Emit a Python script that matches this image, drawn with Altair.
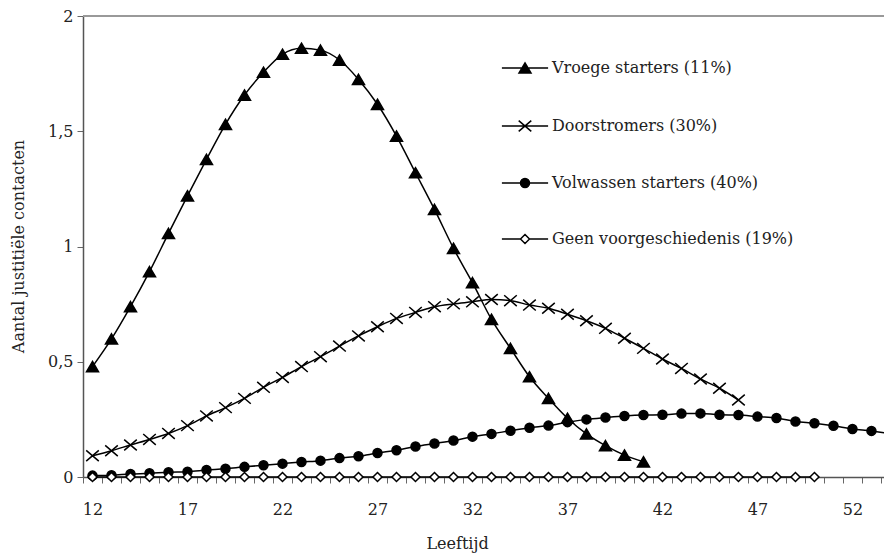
import altair as alt
import pandas as pd

series_names = ["Vroege starters (11%)", "Doorstromers (30%)",
                "Volwassen starters (40%)", "Geen voorgeschiedenis (19%)"]

ages_vroeg = list(range(12, 42))
vals_vroeg = [0.479, 0.599, 0.739, 0.891, 1.057, 1.220, 1.378, 1.530, 1.657, 1.756,
              1.834, 1.860, 1.852, 1.809, 1.725, 1.617, 1.479, 1.320, 1.161, 0.992,
              0.843, 0.684, 0.558, 0.435, 0.341, 0.255, 0.187, 0.136, 0.095, 0.066]

ages_door = list(range(12, 47))
vals_door = [0.092, 0.114, 0.139, 0.163, 0.189, 0.223, 0.265, 0.301, 0.341, 0.389,
             0.432, 0.479, 0.522, 0.568, 0.612, 0.652, 0.688, 0.714, 0.739, 0.751,
             0.760, 0.770, 0.765, 0.746, 0.732, 0.706, 0.678, 0.645, 0.602, 0.558,
             0.512, 0.471, 0.425, 0.385, 0.334]

ages_volw = list(range(12, 55))
vals_volw = [0.006, 0.008, 0.013, 0.016, 0.021, 0.023, 0.030, 0.036, 0.044, 0.051,
             0.058, 0.065, 0.071, 0.082, 0.090, 0.104, 0.116, 0.132, 0.145, 0.158,
             0.175, 0.187, 0.201, 0.214, 0.223, 0.238, 0.250, 0.258, 0.265, 0.269,
             0.270, 0.275, 0.276, 0.270, 0.269, 0.262, 0.256, 0.241, 0.233, 0.222,
             0.208, 0.200, 0.187]

ages_geen = list(range(12, 51))
vals_geen = [0.0, 0.0, 0.0, 0.0, 0.0, 0.0, 0.0, 0.0, 0.0, 0.0,
             0.0, 0.0, 0.0, 0.0, 0.0, 0.0, 0.0, 0.0, 0.0, 0.0,
             0.0, 0.0, 0.0, 0.0, 0.0, 0.0, 0.0, 0.0, 0.0, 0.0,
             0.0, 0.0, 0.0, 0.0, 0.0, 0.0, 0.0, 0.0, 0.0]

y_ticks = [0, 0.5, 1, 1.5, 2]
x_label_start = 12
x_label_step = 5

rows = []
for name, ages, vals in zip(series_names,
                            [ages_vroeg, ages_door, ages_volw, ages_geen],
                            [vals_vroeg, vals_door, vals_volw, vals_geen]):
    for a, v in zip(ages, vals):
        rows.append({"serie": name, "leeftijd": a, "waarde": v})
df = pd.DataFrame(rows)

FONT = "DejaVu Serif"
TXT = "#222222"

# marker shapes (unit square paths, 1 unit = 6 px at size 144)
TRI = "M0,-0.85L1,0.85L-1,0.85Z"
XS = "M-1.05,-0.9L1.05,0.9M-1.05,0.9L1.05,-0.9"
CIRC = "M-0.75,0A0.75,0.75 0 1,0 0.75,0A0.75,0.75 0 1,0 -0.75,0Z"
DIAM = "M0,-0.75L0.75,0L0,0.75L-0.75,0Z"

# legend symbols: line segment + marker
L_TRI = "M-3.85,0H-0.6M0.6,0H3.85" + TRI
L_XS = "M-3.85,0H3.85" + XS
L_CIRC = "M-3.85,0H-0.6M0.6,0H3.85" + CIRC
L_DIAM = "M-3.85,0H-0.75M0.75,0H3.85" + DIAM

x_min_age = 11.5
x_max_age = 53.66
tick_vals = [a - 0.5 for a in range(12, 55)]

x_enc = alt.X(
    "leeftijd:Q",
    title="Leeftijd",
    scale=alt.Scale(domain=[x_min_age, x_max_age], nice=False, zero=False),
    axis=alt.Axis(
        values=tick_vals,
        labelExpr=f"((datum.value + 0.5 - {x_label_start}) % {x_label_step} == 0) ? format(datum.value + 0.5, 'd') : ''",
        labelOffset=9.5,
        labelOverlap=False,
        labelFlush=False,
        labelBound=False,
        grid=False,
        tickSize=6,
        tickColor="#666666",
        tickWidth=1,
        domainColor="#555555",
        domainWidth=1.5,
        labelPadding=18,
        labelFont=FONT,
        labelFontSize=16,
        labelColor=TXT,
        titleFont=FONT,
        titleFontSize=16,
        titleFontWeight="normal",
        titleColor=TXT,
        titleX=374,
        titleY=66,
        titleAlign="center",
        titleBaseline="middle",
    ),
)

y_enc = alt.Y(
    "waarde:Q",
    title="Aantal justitiële contacten",
    scale=alt.Scale(domain=[0, 2], nice=False, zero=True),
    axis=alt.Axis(
        values=y_ticks,
        labelExpr="replace(format(datum.value, '~g'), '.', ',')",
        grid=False,
        tickSize=6,
        tickColor="#666666",
        tickWidth=1,
        domainColor="#555555",
        domainWidth=1.5,
        labelPadding=4,
        labelFont=FONT,
        labelFontSize=16,
        labelColor=TXT,
        titleFont=FONT,
        titleFontSize=16,
        titleFontWeight="normal",
        titleColor=TXT,
        titleX=-65,
        titleY=230,
        titleAlign="center",
        titleBaseline="middle",
        titleAngle=270,
    ),
)

base = alt.Chart(df)

top_line = alt.Chart(pd.DataFrame({"waarde": [y_ticks[-1]]})).mark_rule(
    color="#999999", strokeWidth=2
).encode(y=y_enc)

lines = base.mark_line(color="black", strokeWidth=1.5, interpolate="monotone").encode(
    x=x_enc, y=y_enc, detail="serie:N"
)

def pts(name, shape, fill):
    return base.transform_filter(alt.datum.serie == name).mark_point(
        shape=shape, size=144, fill=fill, stroke="black", strokeWidth=1.5,
        opacity=1, fillOpacity=1
    ).encode(x=x_enc, y=y_enc)

p1 = pts(series_names[0], TRI, "black")
p2 = pts(series_names[1], XS, "transparent")
p3 = pts(series_names[2], CIRC, "black")
p4 = pts(series_names[3], DIAM, "white")

def leg():
    return alt.Legend(
        title=None,
        orient="none",
        legendX=434,
        legendY=44,
        direction="vertical",
        symbolSize=144,
        symbolStrokeWidth=1.5,
        labelFont=FONT,
        labelFontSize=16,
        labelColor=TXT,
        labelOffset=19,
        rowPadding=40,
        padding=0,
        labelLimit=400,
    )

legend_layer = base.mark_point(clip=True, size=144, strokeWidth=1.5,
                               opacity=1, fillOpacity=1).encode(
    x=x_enc,
    y=alt.value(-200),
    shape=alt.Shape(
        "serie:N",
        scale=alt.Scale(domain=series_names, range=[L_TRI, L_XS, L_CIRC, L_DIAM]),
        legend=leg(),
    ),
    fill=alt.Fill(
        "serie:N",
        scale=alt.Scale(domain=series_names, range=["black", "transparent", "black", "white"]),
        legend=leg(),
    ),
    stroke=alt.Stroke(
        "serie:N",
        scale=alt.Scale(domain=series_names, range=["black", "black", "black", "black"]),
        legend=leg(),
    ),
)

chart = alt.layer(top_line, lines, p1, p2, p3, p4, legend_layer).properties(
    width=801,
    height=461,
    padding={"left": 75, "top": 8, "right": 0, "bottom": 80},
    autosize=alt.AutoSizeParams(type="none"),
    background="white",
).configure_view(stroke=None)

chart.save("out.html", embed_options={"renderer": "svg", "actions": False})
